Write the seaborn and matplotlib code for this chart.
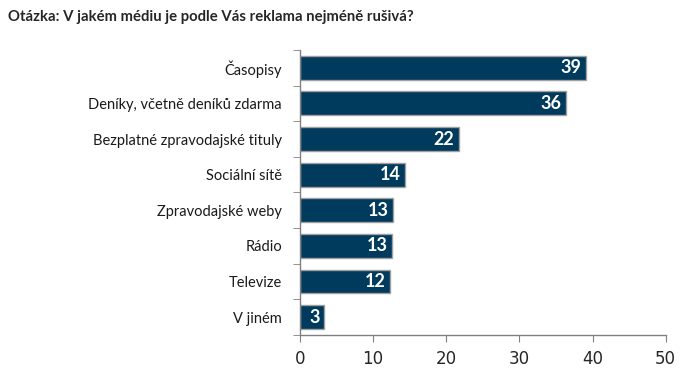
import matplotlib.pyplot as plt
import seaborn as sns
import pandas as pd
import numpy as np

# values
categories = ['Časopisy', 'Deníky, včetně deníků zdarma', 'Bezplatné zpravodajské tituly',
              'Sociální sítě', 'Zpravodajské weby', 'Rádio', 'Televize', 'V jiném']
values = [39.1, 36.4, 21.7, 14.3, 12.7, 12.6, 12.3, 3.3]
x_ticks = [0, 10, 20, 30, 40, 50]
title = 'Otázka: V jakém médiu je podle Vás reklama nejméně rušivá?'

df = pd.DataFrame({'Medium': categories, 'Podil': values})

sns.set_style('white')
plt.rcParams['font.family'] = ['Lato', 'DejaVu Sans']

fig = plt.figure(figsize=(7, 3.78), dpi=100)
ax = fig.add_axes([0.4286, 0.1138, 0.5224, 0.7540])

sns.barplot(data=df, y='Medium', x='Podil', orient='h', color='#003a5c',
            saturation=1, width=0.67, edgecolor='#a0a0a0', linewidth=1, ax=ax)

# value labels inside the bar ends
for i, v in enumerate(df['Podil']):
    ax.text(v - 0.6, i, f'{round(v):d}', ha='right', va='center',
            color='white', fontsize=13, fontweight='bold')

ax.set_xlim(0, 50)
ax.set_ylim(len(categories) - 0.5, -0.5)
ax.set_xticks(x_ticks)
ax.set_xlabel('')
ax.set_ylabel('')

# ticks between categories on y axis
ax.set_yticks(np.arange(-0.5, len(categories), 1), minor=True)
ax.tick_params(axis='y', which='major', length=0, pad=13, labelsize=10.5, labelcolor='#1a1a1a')
ax.tick_params(axis='y', which='minor', length=5, color='#808080', direction='out', left=True)
ax.tick_params(axis='x', length=5, color='#808080', direction='out', bottom=True, pad=6)
for lab in ax.get_xticklabels():
    lab.set_family('DejaVu Sans')
    lab.set_fontsize(12)

for side in ['top', 'right']:
    ax.spines[side].set_visible(False)
for side in ['left', 'bottom']:
    ax.spines[side].set_color('#808080')
    ax.spines[side].set_linewidth(1)

fig.text(0.011, 0.955, title, fontsize=10.7, fontweight='bold', ha='left', va='center')

fig.savefig('out.png', dpi=100)
